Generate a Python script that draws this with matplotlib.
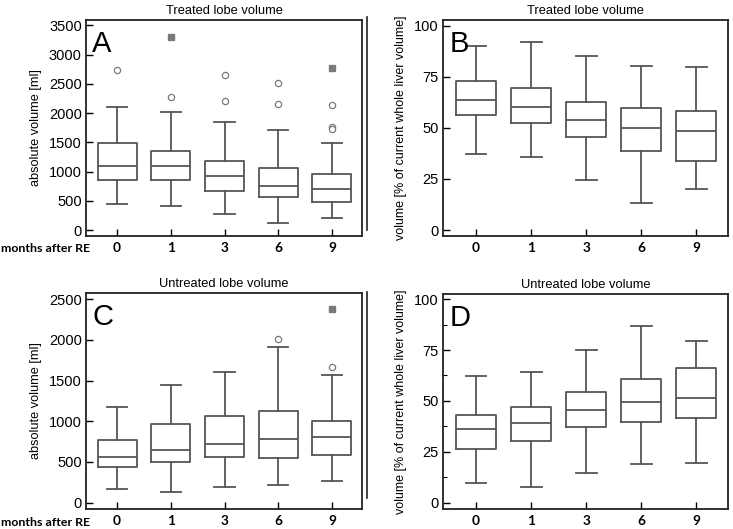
import matplotlib
matplotlib.use('Agg')
import matplotlib.pyplot as plt
from matplotlib.lines import Line2D

# months after RE
months = ['0', '1', '3', '6', '9']

# A: treated lobe, absolute volume [ml]
a_lo  = [440, 417, 275, 126, 212]
a_q1  = [852, 852, 669, 560, 486]
a_med = [1098, 1098, 921, 761, 709]
a_q3  = [1481, 1350, 1184, 1064, 955]
a_hi  = [2105, 2025, 1847, 1704, 1493]
a_out = [[2734], [2276], [2654, 2213], [2522, 2150], [2139, 1767, 1721]]
a_ext = [[], [3300], [], [], [2774]]

# B: treated lobe, % of whole liver
b_lo  = [37.4, 35.6, 24.7, 13.0, 20.3]
b_q1  = [56.4, 52.5, 45.5, 38.7, 34.0]
b_med = [63.7, 60.2, 54.1, 50.1, 48.3]
b_q3  = [72.8, 69.3, 62.8, 59.7, 58.2]
b_hi  = [89.9, 91.9, 85.4, 80.5, 79.8]

# C: untreated lobe, absolute volume [ml]
c_lo  = [172, 127, 196, 217, 266]
c_q1  = [442, 495, 556, 544, 581]
c_med = [557, 651, 724, 781, 802]
c_q3  = [773, 962, 1060, 1125, 1002]
c_hi  = [1178, 1448, 1600, 1907, 1567]
c_out = [[], [], [], [2009], [1669]]
c_ext = [[], [], [], [], [2373]]

# D: untreated lobe, % of whole liver
d_lo  = [9.7, 7.5, 14.4, 19.1, 19.6]
d_q1  = [26.5, 30.1, 37.0, 39.8, 41.4]
d_med = [36.0, 39.3, 45.7, 49.6, 51.4]
d_q3  = [43.0, 47.1, 54.2, 61.0, 66.0]
d_hi  = [62.0, 64.2, 75.0, 86.9, 79.4]

box_col = '#555555'
out_col = '#7a7a7a'


def make_stats(lo, q1, med, q3, hi, out=None):
    stats = []
    for i in range(len(med)):
        stats.append(dict(whislo=lo[i], q1=q1[i], med=med[i], q3=q3[i], whishi=hi[i],
                          fliers=out[i] if out else []))
    return stats


def draw_panel(ax, stats, ext, letter, title, ylabel, ylim, yticks, xlim,
               minor=None, ylsize=9.2):
    pos = list(range(1, len(months) + 1))
    lp = dict(color=box_col, linewidth=1.3)
    ax.bxp(stats, positions=pos, widths=0.73, showfliers=True,
           boxprops=lp, whiskerprops=lp, capprops=lp, medianprops=lp,
           capwidths=0.38,
           flierprops=dict(marker='o', markersize=4.5, markerfacecolor='white',
                           markeredgecolor=out_col, markeredgewidth=0.9))
    if ext:
        for p, vals in zip(pos, ext):
            if vals:
                ax.plot([p] * len(vals), vals, 's', color=out_col, markersize=4)
    ax.set_xlim(*xlim)
    ax.set_ylim(*ylim)
    ax.set_yticks(yticks)
    if minor is not None:
        ax.set_yticks(minor, minor=True)
        ax.tick_params(axis='y', which='minor', direction='in', length=3, width=0.8)
    ax.set_xticks(pos)
    ax.set_xticklabels(months, fontweight='bold', fontsize=9.8, family='Lato')
    ax.tick_params(axis='y', direction='in', length=5, width=1, labelsize=10.5, pad=3)
    ax.tick_params(axis='x', direction='in', length=5, width=1, pad=4)
    for s in ax.spines.values():
        s.set_linewidth(1.3)
        s.set_color('#222222')
    ax.set_title(title, fontsize=9.3, pad=4)
    ax.set_ylabel(ylabel, fontsize=ylsize, labelpad=5)
    ax.text(0.022, 0.955, letter, transform=ax.transAxes, fontsize=21,
            ha='left', va='top')


plt.rcParams['font.family'] = ['Liberation Sans', 'DejaVu Sans']

fig = plt.figure(figsize=(7.33, 5.29), dpi=100)
axA = fig.add_axes([0.1173, 0.5539, 0.3765, 0.4083])
axB = fig.add_axes([0.6044, 0.5539, 0.3888, 0.4083])
axC = fig.add_axes([0.1173, 0.0378, 0.3765, 0.4083])
axD = fig.add_axes([0.6044, 0.0378, 0.3888, 0.4064])

draw_panel(axA, make_stats(a_lo, a_q1, a_med, a_q3, a_hi, a_out), a_ext, 'A',
           'Treated lobe volume', 'absolute volume [ml]', (-100, 3590),
           range(0, 3501, 500), (0.42, 5.56))
draw_panel(axB, make_stats(b_lo, b_q1, b_med, b_q3, b_hi), None, 'B',
           'Treated lobe volume', 'volume [% of current whole liver volume]',
           (-2.9, 102.8), [0, 25, 50, 75, 100], (0.4, 5.58), ylsize=9.0)
draw_panel(axC, make_stats(c_lo, c_q1, c_med, c_q3, c_hi, c_out), c_ext, 'C',
           'Untreated lobe volume', 'absolute volume [ml]', (-77, 2574),
           range(0, 2501, 500), (0.42, 5.56))
draw_panel(axD, make_stats(d_lo, d_q1, d_med, d_q3, d_hi), None, 'D',
           'Untreated lobe volume', 'volume [% of current whole liver volume]',
           (-3.1, 102.5), [0, 25, 50, 75, 100], (0.4, 5.58),
           minor=[12.5, 37.5, 62.5, 87.5], ylsize=9.0)

for yy in (1 - 248 / 529, 1 - 522 / 529):
    fig.text(90 / 733, yy, 'months after RE', ha='right', va='center',
             fontsize=8.9, fontweight='bold', family='Lato')

# thin separator lines left of the right-hand panels
fig.add_artist(Line2D([367 / 733, 367 / 733], [1 - 230 / 529, 1 - 17 / 529],
                      color='#222222', linewidth=1.2))
fig.add_artist(Line2D([367 / 733, 367 / 733], [1 - 498 / 529, 1 - 292 / 529],
                      color='#222222', linewidth=1.2))

fig.savefig('out.png', dpi=100)
